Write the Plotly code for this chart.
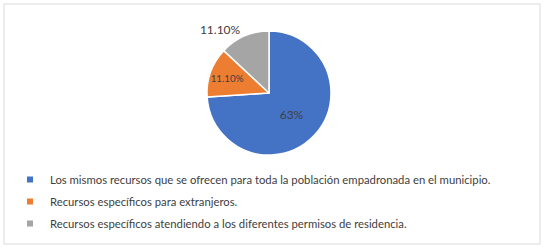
import plotly.graph_objects as go

categories = [
    "Los mismos recursos que se ofrecen para toda la población empadronada en el municipio.",
    "Recursos específicos para extranjeros.",
    "Recursos específicos atendiendo a los diferentes permisos de residencia.",
]
values = [63, 11.1, 11.1]
label_text = ["63%", "11.10%", "11.10%"]
colors = ["#4472C4", "#ED7D31", "#A5A5A5"]

W, H = 546, 248
FONT = "Lato"


def px_x(p):
    return p / W


def px_y(p):
    return 1 - p / H


fig = go.Figure()
fig.add_trace(go.Pie(
    labels=categories,
    values=values,
    text=label_text,
    textinfo="text",
    textposition=["inside", "inside", "outside"],
    insidetextorientation="horizontal",
    sort=False,
    direction="clockwise",
    rotation=0,
    marker=dict(colors=colors, line=dict(color="white", width=1.5)),
    textfont=dict(color="#404040", size=12, family=FONT),
    showlegend=False,
    hoverinfo="label+text",
    domain=dict(x=[px_x(269 - 62), px_x(269 + 62)], y=[px_y(155), px_y(31)]),
))

for name, col in zip(categories, colors):
    fig.add_trace(go.Scatter(
        x=[None], y=[None], mode="markers", name=name, legendgroup=name,
        marker=dict(symbol="square", size=6, color=col),
    ))

fig.update_layout(
    width=W, height=H,
    margin=dict(l=0, r=0, t=0, b=0),
    paper_bgcolor="white", plot_bgcolor="white",
    xaxis=dict(visible=False), yaxis=dict(visible=False),
    showlegend=True,
    legend=dict(
        x=px_x(10), y=px_y(165), xanchor="left", yanchor="top",
        orientation="v", tracegroupgap=3,
        font=dict(family=FONT, size=11.3, color="#404040"),
        bgcolor="rgba(0,0,0,0)", itemsizing="trace",
    ),
    shapes=[dict(type="rect", xref="paper", yref="paper",
                 x0=px_x(4), x1=px_x(540), y0=px_y(244), y1=px_y(4),
                 line=dict(color="#D9D9D9", width=1), fillcolor="rgba(0,0,0,0)", layer="below")],
)

fig.write_html("out.html", config={"displayModeBar": False},
               post_script="document.body.style.margin='0';")
